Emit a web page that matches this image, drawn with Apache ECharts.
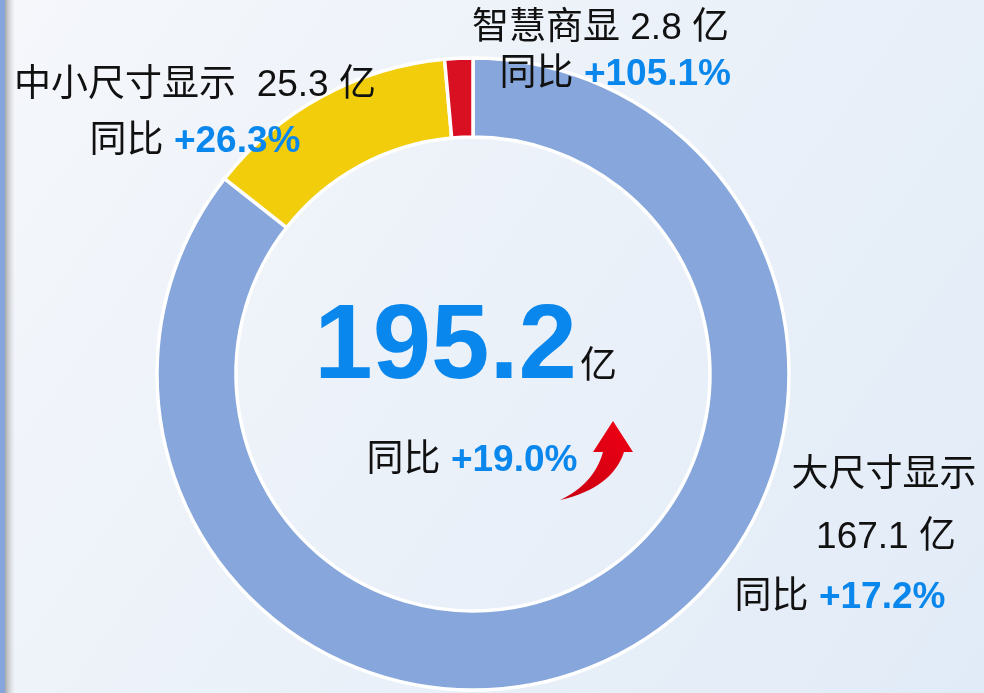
<!DOCTYPE html>
<html><head><meta charset="utf-8">
<script src="https://cdn.jsdelivr.net/npm/echarts@6/dist/echarts.min.js"></script>
<style>html,body{margin:0;padding:0;}#c{width:984px;height:693px;}</style>
</head><body><div id="c"></div>
<script>
const categories = ['大尺寸显示', '中小尺寸显示', '智慧商显'];
const values = [167.1, 25.3, 2.8];
const growth = ['+17.2%', '+26.3%', '+105.1%'];
const total = 195.2;
const totalGrowth = '+19.0%';
const colors = ['#86A6DC', '#F2CD0C', '#D81022'];

const FONT = '"Liberation Sans", Arial, "Noto Sans CJK SC", sans-serif';
const BLUE = '#0A87EC';
const rich = {
  k: {fill: '#111', font: '37px ' + FONT},
  b: {fill: BLUE, font: 'bold 37px ' + FONT}
};
function txt(x, y, str, align) {
  return {type: 'text', x: x, y: y, z: 10,
    style: {text: str, rich: rich, align: align || 'center', verticalAlign: 'middle', font: '37px ' + FONT}};
}
// decorative curved arrow outline (quadratic curves sampled)
function quad(p0, p1, p2, n) {
  const pts = [];
  for (let i = 0; i <= n; i++) {
    const t = i / n, a = (1 - t) * (1 - t), b = 2 * (1 - t) * t, c = t * t;
    pts.push([a * p0[0] + b * p1[0] + c * p2[0], a * p0[1] + b * p1[1] + c * p2[1]]);
  }
  return pts;
}
const arrowPts = quad([560, 500], [612, 488], [624, 452], 16)
  .concat([[633, 452], [613, 421], [593, 452], [603, 452]])
  .concat(quad([603, 452], [594, 484], [560, 500], 16));

const chart = echarts.init(document.getElementById('c'));
chart.setOption({
  animation: false,
  graphic: [
    {type: 'rect', z: -10, shape: {x: 0, y: 0, width: 984, height: 693},
     style: {fill: {type: 'linear', x: 0, y: 0, x2: 1, y2: 1, colorStops: [
       {offset: 0, color: '#F5F7FB'}, {offset: 1, color: '#E1EBF7'}]}}},
    {type: 'rect', z: -9, shape: {x: 5, y: 0, width: 10, height: 693},
     style: {fill: {type: 'linear', x: 0, y: 0, x2: 1, y2: 0, colorStops: [
       {offset: 0, color: 'rgba(150,150,150,0.8)'}, {offset: 1, color: 'rgba(200,200,200,0)'}]}}},
    {type: 'rect', z: -8, shape: {x: 0, y: 0, width: 5, height: 693}, style: {fill: '#86A5DC'}},
    txt(195, 86, '{k|' + categories[1] + '  ' + values[1].toFixed(1) + ' 亿}'),
    txt(195, 142, '{k|同比 }{b|' + growth[1] + '}'),
    txt(729, 29, '{k|' + categories[2] + ' ' + values[2].toFixed(1) + ' 亿}', 'right'),
    txt(731, 75, '{k|同比 }{b|' + growth[2] + '}', 'right'),
    txt(884, 476, '{k|' + categories[0] + '}'),
    txt(886, 538, '{k|' + values[0].toFixed(1) + ' 亿}'),
    txt(840, 598, '{k|同比 }{b|' + growth[0] + '}'),
    {type: 'text', x: 577, y: 402, z: 10, style: {text: total.toFixed(1), align: 'right', verticalAlign: 'bottom',
      fill: BLUE, font: 'bold 105px ' + FONT}},
    {type: 'text', x: 580, y: 368, z: 10, style: {text: '亿', align: 'left', verticalAlign: 'middle',
      fill: '#111', font: '37px ' + FONT}},
    txt(472, 461, '{k|同比 }{b|' + totalGrowth + '}'),
    {type: 'polygon', z: 10, shape: {points: arrowPts},
     style: {fill: {type: 'linear', x: 0, y: 1, x2: 1, y2: 0, colorStops: [
       {offset: 0, color: '#C8000F'}, {offset: 1, color: '#F00016'}]}}}
  ],
  series: [{
    type: 'pie',
    center: [473, 374],
    radius: [237, 316],
    startAngle: 90,
    clockwise: true,
    label: {show: false},
    labelLine: {show: false},
    emphasis: {disabled: true},
    itemStyle: {borderColor: '#fff', borderWidth: 3.5},
    data: categories.map((n, i) => ({name: n, value: values[i], itemStyle: {color: colors[i]}}))
  }]
});
</script></body></html>
